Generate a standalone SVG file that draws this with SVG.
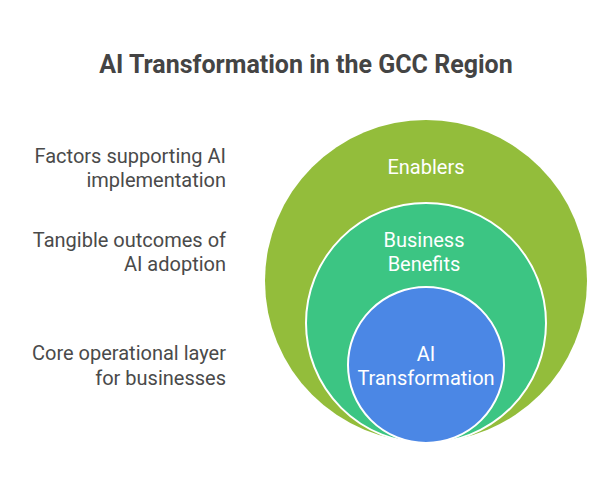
<svg xmlns="http://www.w3.org/2000/svg" width="612" height="493" viewBox="0 0 612 493">
<style>
text{font-family:Roboto,"Liberation Sans",sans-serif;}
.title{font-size:25px;font-weight:bold;fill:#444;text-anchor:middle;}
.lbl{font-size:20px;fill:#4a4a4a;text-anchor:end;}
.in{font-size:20px;fill:#fff;text-anchor:middle;}
</style>
<rect width="612" height="493" fill="#fff"/>
<text class="title" x="306" y="73">AI Transformation in the GCC Region</text>
<g id="enablers">
<circle cx="426" cy="281" r="161" fill="#93BD3B"/>
<text class="in" x="426" y="174">Enablers</text>
</g>
<g id="business-benefits">
<circle cx="426" cy="323" r="120" fill="#3CC583" stroke="#fff" stroke-width="2"/>
<text class="in" x="424" y="247">Business</text>
<text class="in" x="424" y="271">Benefits</text>
</g>
<g id="ai-transformation">
<circle cx="426" cy="365" r="78" fill="#4B87E5" stroke="#fff" stroke-width="2"/>
<text class="in" x="426" y="361">AI</text>
<text class="in" x="426" y="385">Transformation</text>
</g>
<g id="labels">
<text class="lbl" x="226" y="163">Factors supporting AI</text>
<text class="lbl" x="226" y="187">implementation</text>
<text class="lbl" x="226" y="247">Tangible outcomes of</text>
<text class="lbl" x="226" y="271">AI adoption</text>
<text class="lbl" x="226" y="360">Core operational layer</text>
<text class="lbl" x="226" y="385">for businesses</text>
</g>
<g id="connectors"></g>
</svg>
